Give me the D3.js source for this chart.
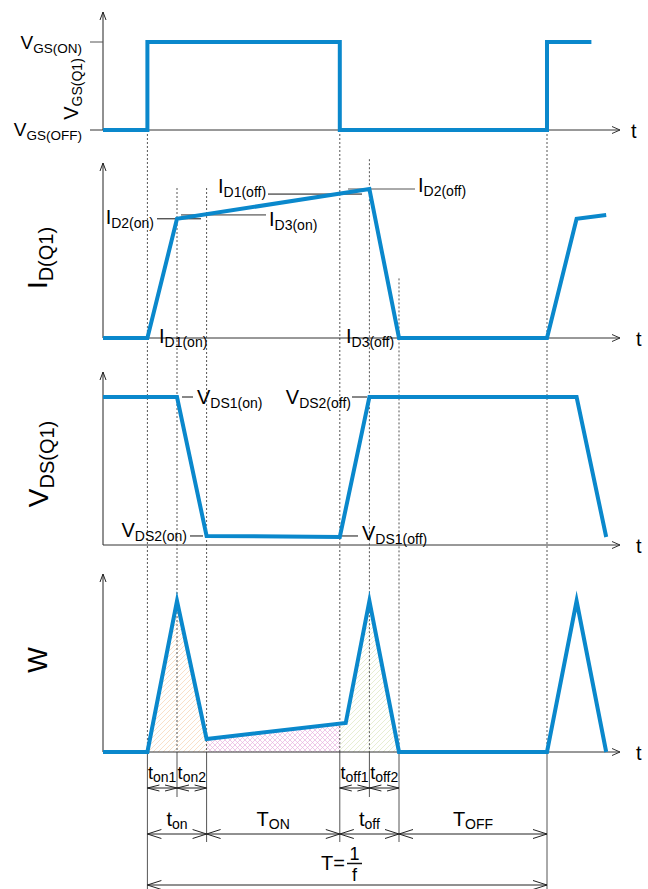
<!DOCTYPE html>
<html><head><meta charset="utf-8">
<script src="https://cdn.jsdelivr.net/npm/d3@7"></script>
<style>body{margin:0;background:#fff}svg{display:block}</style>
</head><body>
<script>
// ---- data (time in switching-interval units, levels normalised per panel) ----
const eventTimes = [0, 1, 2, 6.5, 7.5, 8.5, 13.5];
const vgsT = [-1.5, 0, 0, 6.5, 6.5, 13.5, 13.5, 15];
const vgsV = [0, 0, 1, 1, 0, 0, 1, 1];
const idT  = [-1.5, 0, 1, 7.5, 8.5, 13.5, 14.5, 15.5];
const idV  = [0, 0, 0.8, 1, 0, 0, 0.8, 0.826];
const vdsT = [-1.5, 1, 2, 6.5, 7.5, 14.5, 15.5];
const vdsV = [1, 1, 0.061, 0.054, 1, 1, 0.054];
const wT   = [-1.5, 0, 1, 2, 6.7, 7.5, 8.5, 13.5, 14.5, 15.5];
const wV   = [0, 0, 1, 0.086, 0.192, 1, 0, 0, 1, 0];
const idLevelNames = ["ID2(on)", "ID3(on)", "ID1(off)", "ID2(off)"];
const idLevels = [0.8, 0.826, 0.966, 1];
const hatchSpans = [[0, 2], [2, 6.5], [6.5, 8.5]];
const dimRow1 = [["t","on1",0,1],["t","on2",1,2],["t","off1",6.5,7.5],["t","off2",7.5,8.5]];
const dimRow2 = [["t","on",0,2],["T","ON",2,6.5],["t","off",6.5,8.5],["T","OFF",8.5,13.5]];

const W = 648, H = 889;
const BLUE = "#0a88cc";
const FONT = "'Liberation Sans', Arial, sans-serif";
const svg = d3.select("body").append("svg").attr("width", W).attr("height", H)
  .style("font-family", FONT);

const x = d3.scaleLinear().domain([-1.5, 16]).range([103, 621]);
const yVGS = d3.scaleLinear().domain([0, 1]).range([130, 42]);
const yID  = d3.scaleLinear().domain([0, 1]).range([338, 189]);
const yVDS = d3.scaleLinear().domain([0, 1]).range([545, 397]);
const yW   = d3.scaleLinear().domain([0, 1]).range([752, 601]);

// ---- patterns ----
const defs = svg.append("defs");
function hatch(id, color, dirs) {
  const p = defs.append("pattern").attr("id", id).attr("patternUnits", "userSpaceOnUse")
    .attr("width", 5).attr("height", 5);
  dirs.forEach(d => {
    const path = d === "/" ? "M-1,6 L6,-1 M-1,1 L1,-1 M4,6 L6,4" : "M-1,-1 L6,6 M-1,4 L1,6 M4,-1 L6,1";
    p.append("path").attr("d", path).attr("stroke", color).attr("stroke-width", 0.7).attr("fill", "none");
  });
}
hatch("hOr", "#f7d2b2", ["/"]);
hatch("hPk", "#e6b2e0", ["/", "\\"]);
hatch("hGr", "#dce6c0", ["/"]);

// hatch areas under W
const wPts = wT.map((t, i) => [t, wV[i]]);
function wAt(t) {
  for (let i = 1; i < wPts.length; i++) {
    const [t0, v0] = wPts[i - 1], [t1, v1] = wPts[i];
    if (t >= t0 && t <= t1 && t1 > t0) return v0 + (v1 - v0) * (t - t0) / (t1 - t0);
  }
  return 0;
}
const area = d3.area().x(d => x(d[0])).y0(yW(0)).y1(d => yW(d[1]));
const hatchIds = ["hOr", "hPk", "hGr"];
hatchSpans.forEach(([a, b], i) => {
  const pts = [[a, wAt(a)]].concat(wPts.filter(p => p[0] > a && p[0] < b)).concat([[b, wAt(b)]]);
  svg.append("path").attr("d", area(pts)).attr("fill", `url(#${hatchIds[i]})`);
});

// ---- dotted guide lines and dimension extensions ----
const guideTop = [yVGS(0), yID(1) - 1, yID(1) - 1, yVGS(0), yID(1.2), yID(0.4), yVGS(0)];
const guideBottom = [889, 797, 842, 842, 797, 842, 889];
eventTimes.forEach((t, i) => {
  svg.append("line").attr("x1", x(t)).attr("x2", x(t)).attr("y1", guideTop[i]).attr("y2", yW(0))
    .attr("stroke", "#555").attr("stroke-width", 1).attr("stroke-dasharray", "2,2");
  svg.append("line").attr("x1", x(t)).attr("x2", x(t)).attr("y1", yW(0)).attr("y2", guideBottom[i])
    .attr("stroke", "#555").attr("stroke-width", 1);
});

// ---- axes ----
function axes(yScale, top, left) {
  const b = yScale(0);
  svg.append("line").attr("x1", x(-1.5)).attr("x2", x(-1.5)).attr("y1", top).attr("y2", b)
    .attr("stroke", "#222").attr("stroke-width", 1);
  svg.append("path").attr("d", `M${x(-1.5) - 3},${top + 8} L${x(-1.5)},${top} L${x(-1.5) + 3},${top + 8}`)
    .attr("fill", "none").attr("stroke", "#222");
  svg.append("line").attr("x1", left).attr("x2", x(16) - 1).attr("y1", b).attr("y2", b)
    .attr("stroke", "#333").attr("stroke-width", 1);
  svg.append("path").attr("d", `M${x(16) - 9},${b - 3.5} L${x(16) - 1},${b} L${x(16) - 9},${b + 3.5}`)
    .attr("fill", "none").attr("stroke", "#333");
}
axes(yVGS, 12, 90);
axes(yID, 163, x(-1.5));
axes(yVDS, 372, x(-1.5));
axes(yW, 574, x(-1.5));
svg.append("line").attr("x1", 90).attr("x2", x(-1.5)).attr("y1", yVGS(1)).attr("y2", yVGS(1))
  .attr("stroke", "#555");

// t labels
[[yVGS(0), 631], [yID(0), 636], [yVDS(0), 636], [yW(0), 636]].forEach(([b, tx]) => {
  svg.append("text").attr("x", tx).attr("y", b + 8).attr("font-size", 20).text("t");
});

// ---- text helper ----
function lbl(px, py, main, sub, o = {}) {
  const ms = o.ms || 20, ss = o.ss || 14;
  const t = svg.append("text").attr("font-size", ms).attr("text-anchor", o.anchor || "start");
  if (o.rot) t.attr("transform", `translate(${px},${py}) rotate(-90)`);
  else t.attr("x", px).attr("y", py);
  t.append("tspan").text(main);
  t.append("tspan").attr("font-size", ss).attr("dy", o.dy || 4).text(sub);
  return t;
}

// panel 1 labels
lbl(82, 49, "V", "GS(ON)", {anchor: "end", ms: 19, ss: 13.5});
lbl(82, 136, "V", "GS(OFF)", {anchor: "end", ms: 19, ss: 13.5});
lbl(78, 89, "V", "GS(Q1)", {anchor: "middle", rot: true});

// panel 2 labels
lbl(47, 258, "I", "D(Q1)", {anchor: "middle", rot: true, ms: 28, ss: 20, dy: 6});
const leader = (x1, x2, y, c) => svg.append("line").attr("x1", x1).attr("x2", x2)
  .attr("y1", y).attr("y2", y).attr("stroke", c || "#111").attr("stroke-width", 1);
leader(157, 201, yID(idLevels[0]));
leader(181, 266, yID(idLevels[1]), "#333");
leader(268, 362, yID(idLevels[2]));
leader(348, 415, yID(idLevels[3]), "#555");
lbl(154, 224, "I", idLevelNames[0].slice(1), {anchor: "end"});
lbl(269, 226, "I", idLevelNames[1].slice(1));
lbl(218, 193, "I", idLevelNames[2].slice(1));
lbl(418, 192, "I", idLevelNames[3].slice(1));
lbl(159, 343, "I", "D1(on)");
lbl(346, 343, "I", "D3(off)");

// panel 3 labels
lbl(48, 464, "V", "DS(Q1)", {anchor: "middle", rot: true, ms: 28, ss: 20, dy: 6});
leader(182, 193, yVDS(1));
leader(352, 367, yVDS(1));
leader(190, 203, yVDS(0.061));
leader(342, 358, yVDS(0.061));
lbl(197, 404, "V", "DS1(on)");
lbl(351, 404, "V", "DS2(off)", {anchor: "end"});
lbl(187, 537, "V", "DS2(on)", {anchor: "end"});
lbl(362, 540, "V", "DS1(off)");

// panel 4 label
svg.append("text").attr("transform", "translate(47,660) rotate(-90)").attr("text-anchor", "middle")
  .attr("font-size", 27).text("W");

// ---- blue traces ----
const line = d3.line();
function trace(ts, vs, ys) {
  svg.append("path").attr("d", line(ts.map((t, i) => [x(t), ys(vs[i])])))
    .attr("fill", "none").attr("stroke", BLUE).attr("stroke-width", 4)
    .attr("stroke-linejoin", "miter").attr("stroke-miterlimit", 20);
}
trace(vgsT, vgsV, yVGS);
trace(idT, idV, yID);
trace(vdsT, vdsV, yVDS);
trace(wT, wV, yW);

// ---- dimension arrows ----
function dim(a, b, y, len, half) {
  const x1 = x(a), x2 = x(b);
  svg.append("line").attr("x1", x1).attr("x2", x2).attr("y1", y).attr("y2", y).attr("stroke", "#222");
  svg.append("path").attr("d", `M${x1 + len},${y - half} L${x1},${y} L${x1 + len},${y + half} M${x2 - len},${y - half} L${x2},${y} L${x2 - len},${y + half}`)
    .attr("fill", "none").attr("stroke", "#222");
}
dimRow1.forEach(([m, s, a, b]) => {
  dim(a, b, 788, 12, 3);
  lbl((x(a) + x(b)) / 2, 779, m, s, {anchor: "middle", ms: 18, ss: 14, dy: 3});
});
dimRow2.forEach(([m, s, a, b]) => {
  dim(a, b, 834, 14, 4.5);
  lbl((x(a) + x(b)) / 2, 826, m, s, {anchor: "middle", ms: 20, ss: 14, dy: 3});
});
dim(0, 13.5, 885, 14, 4.5);
svg.append("text").attr("x", 345).attr("y", 870).attr("text-anchor", "end").attr("font-size", 20).text("T=");
svg.append("line").attr("x1", 347).attr("x2", 362).attr("y1", 863.5).attr("y2", 863.5).attr("stroke", "#111").attr("stroke-width", 1.5);
svg.append("text").attr("x", 354.5).attr("y", 860).attr("text-anchor", "middle").attr("font-size", 18).text("1");
svg.append("text").attr("x", 354.5).attr("y", 881).attr("text-anchor", "middle").attr("font-size", 18).text("f");
</script>
</body></html>
